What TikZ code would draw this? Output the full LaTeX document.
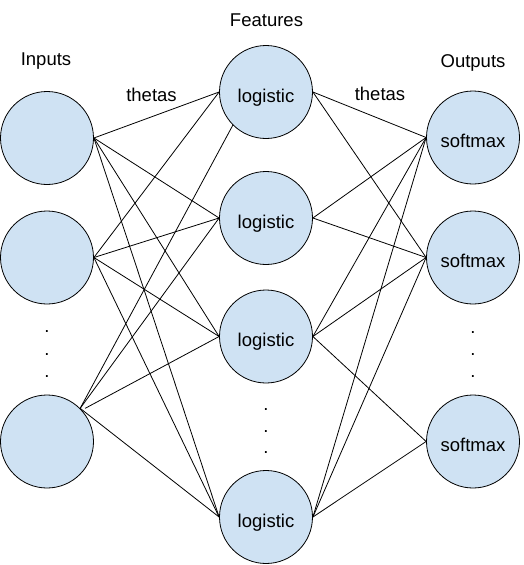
\documentclass[tikz,border=0pt]{standalone}
\usepackage{fontspec}
\setmainfont{Liberation Sans}
\definecolor{nodefill}{HTML}{CFE2F3}
\begin{document}
\begin{tikzpicture}[x=1pt,y=-1pt,
  neuron/.style={circle, draw=black, line width=0.8pt, fill=nodefill,
    minimum size=93pt, inner sep=0pt,
    font=\fontsize{18.5}{22}\selectfont, text height=20pt, text depth=0pt},
  title/.style={font=\fontsize{18.5}{22}\selectfont, anchor=base, inner sep=0pt},
  dotmark/.style={font=\fontsize{18.5}{22}\selectfont, anchor=base, inner sep=0pt},
  conn/.style={draw=black, line width=0.8pt}]
\useasboundingbox (0,0) rectangle (524,565);
% inputs
\node[neuron] (i1) at (47,138) {};
\node[neuron] (i2) at (47,257.5) {};
\node[neuron] (i3) at (47,441.5) {};
% features
\node[neuron] (f1) at (266,92) {logistic};
\node[neuron] (f2) at (266,218) {logistic};
\node[neuron] (f3) at (266,336.5) {logistic};
\node[neuron] (f4) at (266,517) {logistic};
% outputs
\node[neuron] (o1) at (473,137.5) {softmax};
\node[neuron] (o2) at (473,257.5) {softmax};
\node[neuron] (o3) at (473,441.5) {softmax};
% titles
\node[title] (tin) at (46,65) {Inputs};
\node[title] (tfe) at (266.5,26.7) {Features};
\node[title] (tou) at (473,67) {Outputs};
\node[title] (th1) at (151.5,101) {thetas};
\node[title] (th2) at (380,100) {thetas};
% dots
\node[dotmark] (di1) at (47,332.5) {.};
\node[dotmark] (di2) at (47,355) {.};
\node[dotmark] (di3) at (47,377.5) {.};
\node[dotmark] (do1) at (473,333) {.};
\node[dotmark] (do2) at (473,355) {.};
\node[dotmark] (do3) at (473,377.5) {.};
\node[dotmark] (df1) at (266,410.5) {.};
\node[dotmark] (df2) at (266,432.5) {.};
\node[dotmark] (df3) at (266,453.5) {.};
% input -> feature
\draw[conn] (i1.east) -- (f1.west);
\draw[conn] (i1.east) -- (f2.west);
\draw[conn] (i1.east) -- (f3.west);
\draw[conn] (i1.east) -- (f4.west);
\draw[conn] (i2.east) -- (f1.west);
\draw[conn] (i2.east) -- (f2.west);
\draw[conn] (i2.east) -- (f3.west);
\draw[conn] (i2.east) -- (f4.west);
\draw[conn] (i3.north east) -- (f1.south west);
\draw[conn] (i3.north east) -- (f2.west);
\draw[conn] ([xshift=5pt]i3.north east) -- (f3.west);
\draw[conn] (i3.north east) -- (f4.west);
% feature -> output
\draw[conn] (f1.east) -- (o1.west);
\draw[conn] (f1.east) -- (o2.west);
\draw[conn] (f2.east) -- (o1.west);
\draw[conn] (f2.east) -- (o2.west);
\draw[conn] (f3.east) -- (o1.west);
\draw[conn] (f3.east) -- (o2.west);
\draw[conn] (f3.east) -- (o3.west);
\draw[conn] (f4.east) -- (o1.west);
\draw[conn] (f4.east) -- (o2.west);
\draw[conn] (f4.east) -- (o3.west);
\end{tikzpicture}
\end{document}
